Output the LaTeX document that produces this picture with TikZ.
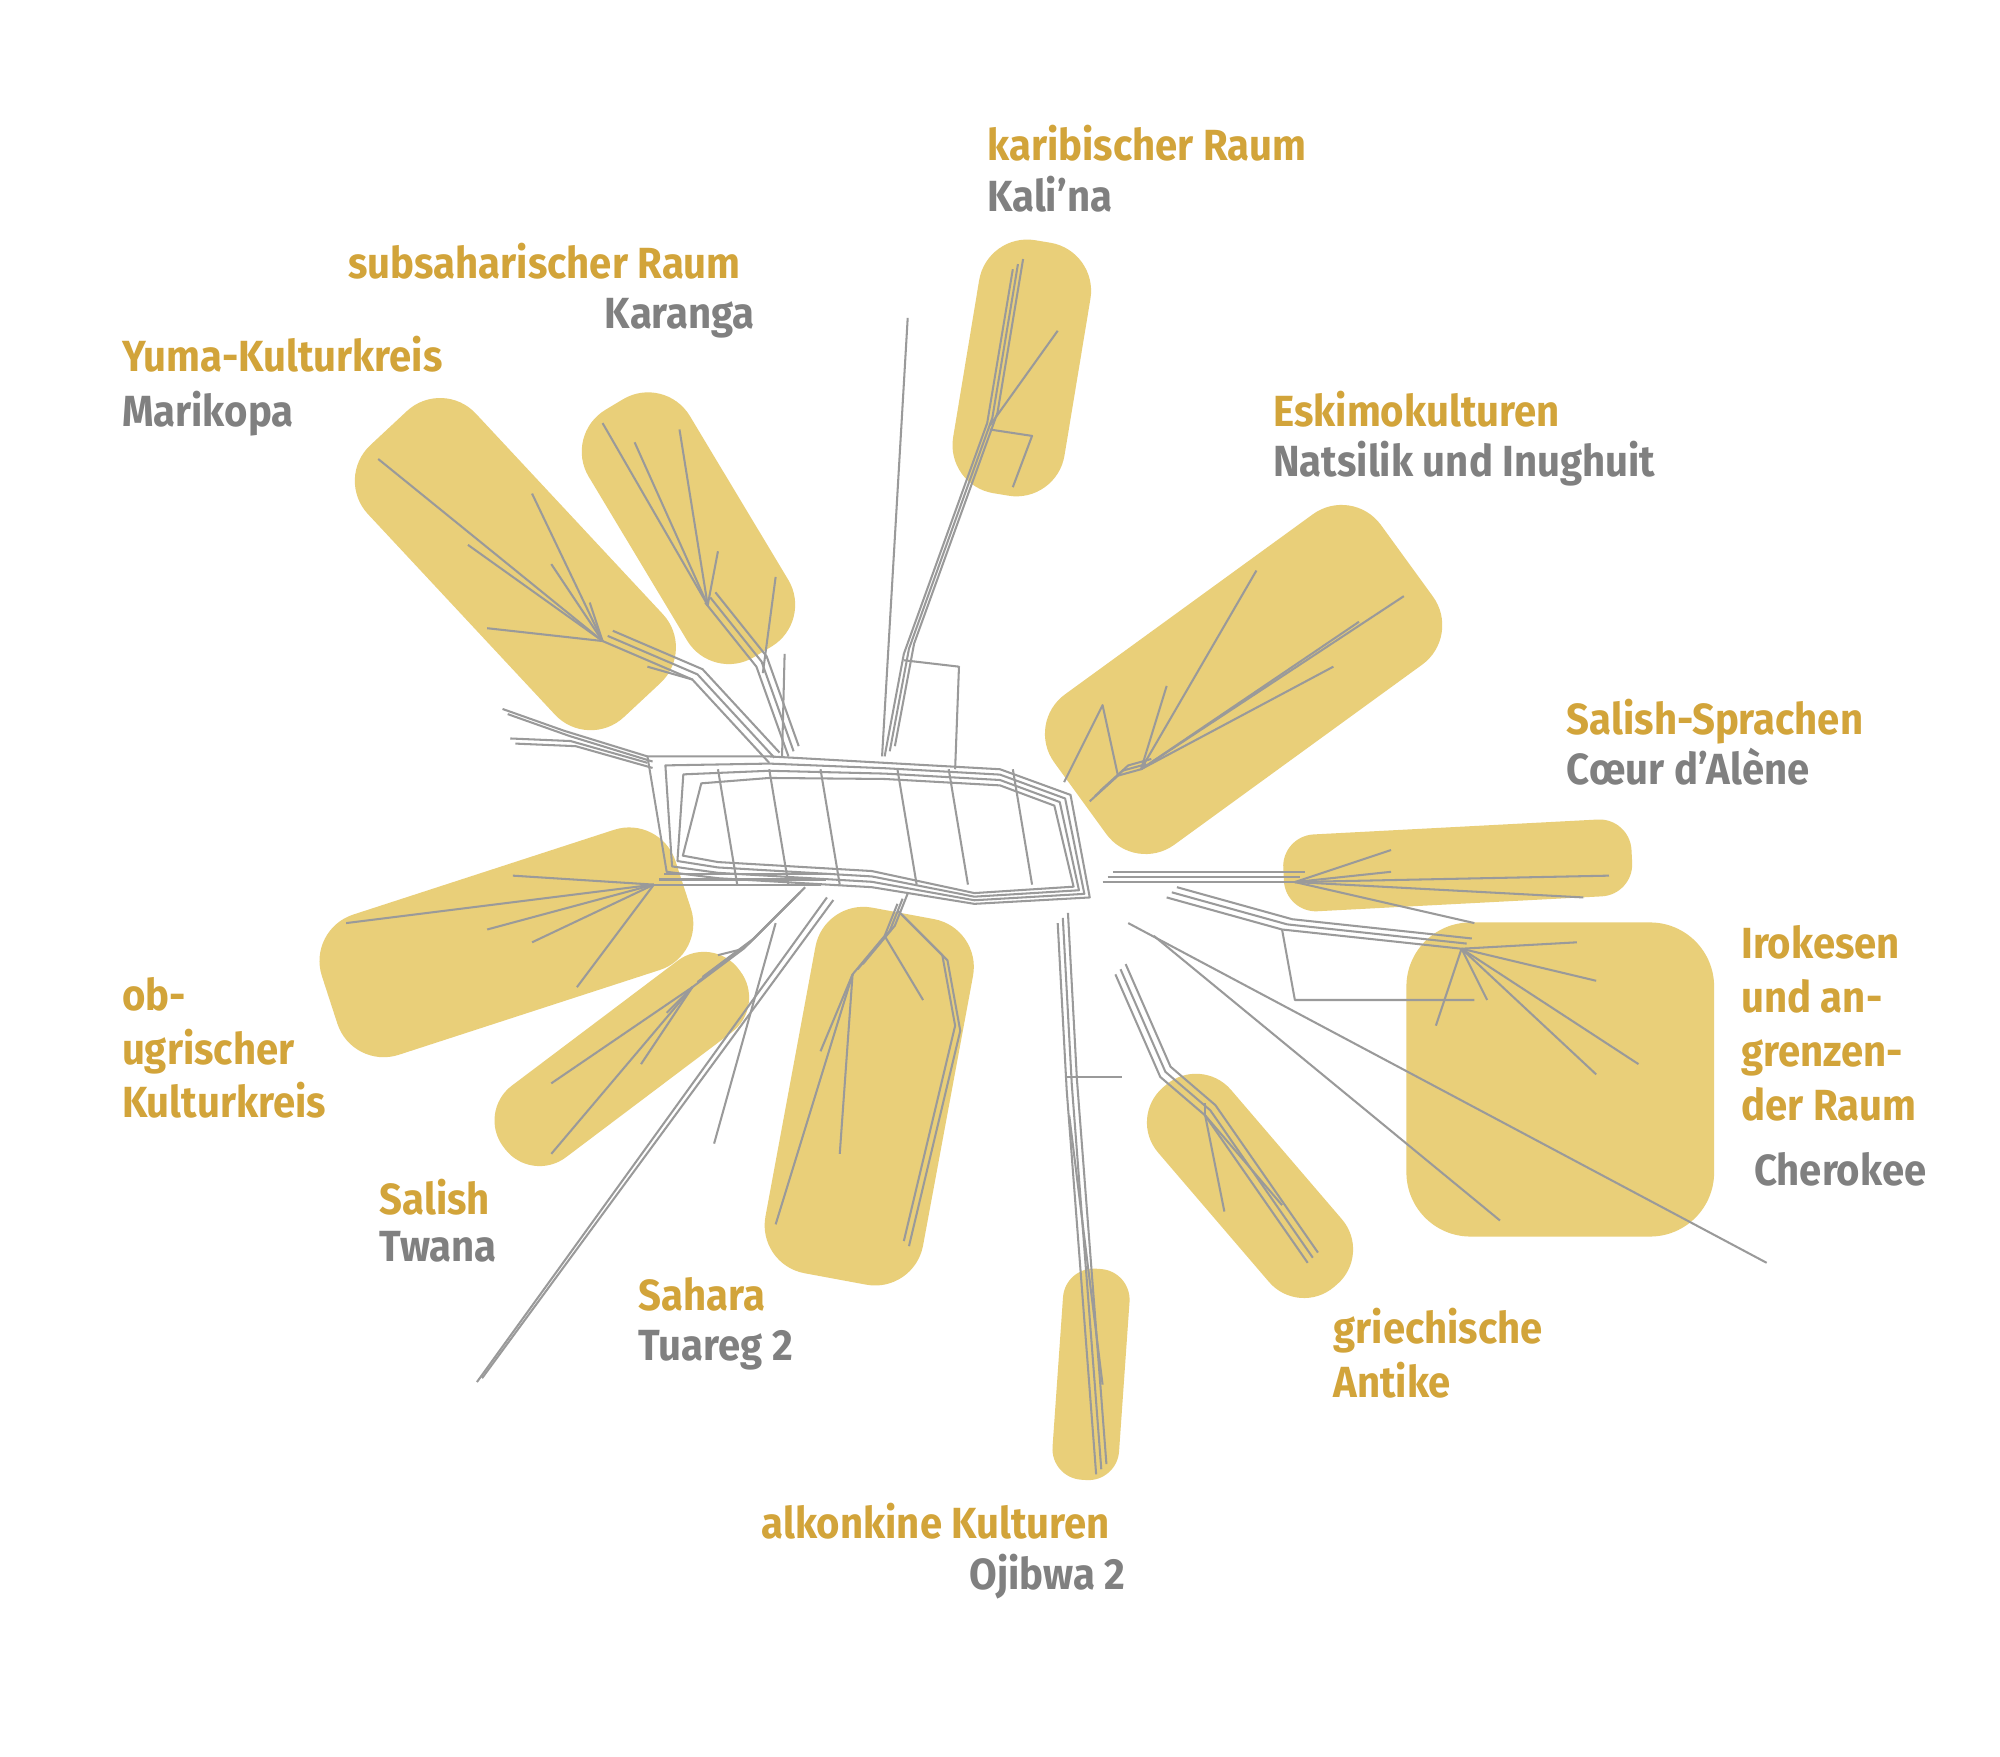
\documentclass[tikz,border=0pt]{standalone}
\usepackage{fontspec}
\setmainfont{Fira Sans}[FakeStretch=0.92]
\definecolor{gold}{HTML}{D2A43A}
\definecolor{blob}{HTML}{E9CF79}
\definecolor{gtext}{HTML}{808080}
\definecolor{net}{HTML}{9A9A9A}
\tikzset{
 blobshape/.style={fill=blob,rounded corners=38pt,minimum height=#1,inner sep=0pt},
 lab/.style={font=\fontsize{34}{42}\selectfont\bfseries,text=gold,anchor=base west,inner sep=0pt},
 sub/.style={font=\fontsize{34}{42}\selectfont\bfseries,text=gtext,anchor=base west,inner sep=0pt},
 edge/.style={draw=net,line width=1.6pt,line join=round}
}
\newcommand{\tri}[1]{\foreach \d in {0,4,8}{\draw[edge,shift={(\d pt,\d pt)}] #1;}}
\newcommand{\duo}[1]{\foreach \d in {0,4}{\draw[edge,shift={(\d pt,-\d pt)}] #1;}}
\begin{document}
\begin{tikzpicture}[x=1pt,y=1pt]
\useasboundingbox[fill=white] (0,0) rectangle (1560,-1370);
% blobs
\node[blobshape=88pt,minimum width=200pt,rotate=80.6] (b1) at (797,-287) {};
\node[blobshape=92pt,minimum width=225pt,rotate=121] (b2) at (537,-412) {};
\node[blobshape=115pt,minimum width=290pt,rotate=133] (b3) at (402,-440) {};
\node[blobshape=145pt,minimum width=315pt,rotate=36] (b4) at (970,-530) {};
\node[blobshape=60pt,minimum width=272pt,rotate=3,rounded corners=25pt] (b5) at (1137,-675) {};
\node[blobshape=245pt,minimum width=240pt,rounded corners=50pt] (b6) at (1217,-842) {};
\node[blobshape=115pt,minimum width=290pt,rotate=18] (b7) at (395,-735) {};
\node[blobshape=70pt,minimum width=230pt,rotate=37,rounded corners=34pt] (b8) at (485,-826) {};
\node[blobshape=125pt,minimum width=290pt,rotate=79.5] (b9) at (678,-855) {};
\node[blobshape=75pt,minimum width=205pt,rotate=130.6,rounded corners=36pt] (b10) at (975,-925) {};
\node[blobshape=52pt,minimum width=165pt,rotate=86,rounded corners=24pt] (b11) at (851,-1072) {};
% central ring
\foreach \d in {0,14,28,42}{
\draw[edge] (505+\d,-590-\d*0.5) -- (600,-590-\d*0.4) -- (690,-595-\d*0.3) -- (780,-600-\d*0.3) -- (835-\d*0.3,-620-\d*0.2) -- (850-\d*0.3,-700+\d*0.2) -- (760,-705+\d*0.2) -- (680,-692+\d*0.3) -- (560,-685+\d*0.3) -- (520+\d*0.3,-680+\d*0.3) -- cycle;}
\foreach \x in {560,600,640,700,740,790}{\draw[edge] (\x,-600) -- (\x+15,-690);}
% Kali'na
\tri{(690,-590) -- (705,-510) -- (770,-330) -- (790,-210)}
\draw[edge] (772,-332) -- (825,-258); \draw[edge] (772,-335) -- (805,-340) -- (790,-380);
\draw[edge] (688,-590) -- (708,-248);
\draw[edge] (705,-515) -- (748,-520) -- (745,-600);
% Karanga
\tri{(615,-590) -- (590,-520) -- (550,-470)}
\foreach \p in {(470,-330),(530,-335),(495,-345),(560,-430)}{\draw[edge] (552,-472) -- \p;}
\draw[edge] (595,-525) -- (605,-450); \draw[edge] (610,-590) -- (612,-510);
% Marikopa
\tri{(600,-595) -- (540,-530) -- (470,-500)}
\foreach \p in {(295,-358),(365,-425),(415,-385),(380,-490),(460,-470),(430,-440)}{\draw[edge] (470,-500) -- \p;}
\draw[edge] (540,-530) -- (505,-520);
% left lines
\duo{(505,-590) -- (440,-570) -- (392,-553)}
\duo{(505,-595) -- (445,-578) -- (398,-576)}
% ob-ugr
\tri{(640,-690) -- (580,-690) -- (510,-690)}
\foreach \p in {(270,-720),(400,-683),(380,-725),(415,-735),(450,-770)}{\draw[edge] (510,-690) -- \p;}
% Twana
\tri{(620,-700) -- (580,-740) -- (540,-770)}
\foreach \p in {(430,-900),(430,-845),(520,-790),(500,-830)}{\draw[edge] (540,-770) -- \p;}
\draw[edge] (580,-740) -- (560,-745);
% long lines
\draw[edge] (645,-700) -- (372,-1078); \draw[edge] (650,-702) -- (376,-1075);
\draw[edge] (605,-720) -- (557,-892);
% Sahara
\tri{(700,-705) -- (690,-730) -- (665,-760)}
\foreach \p in {(605,-955),(655,-900),(640,-820)}{\draw[edge] (665,-760) -- \p;}
\duo{(700,-710) -- (735,-745) -- (745,-800) -- (705,-968)}
\draw[edge] (690,-730) -- (720,-780);
% Ojibwa
\tri{(825,-720) -- (832,-850) -- (855,-1150)}
\draw[edge] (834,-870) -- (860,-1080); \draw[edge] (832,-840) -- (875,-840);
% griechisch
\tri{(870,-760) -- (905,-840) -- (940,-870) -- (1020,-985)}
\foreach \p in {(955,-945),(1000,-940),(940,-860)}{\draw[edge] (940,-870) -- \p;}
% Cherokee
\draw[edge] (880,-720) -- (1378,-985);
\draw[edge] (900,-730) -- (1170,-952);
% Irokesen
\tri{(910,-700) -- (1000,-725) -- (1140,-740)}
\foreach \p in {(1245,-765),(1278,-830),(1245,-838),(1120,-800),(1230,-735),(1160,-780)}{\draw[edge] (1140,-740) -- \p;}
\draw[edge] (1000,-725) -- (1010,-780) -- (1150,-780);
% Salish-Spr
\tri{(860,-688) -- (920,-688) -- (1010,-688)}
\foreach \p in {(1255,-683),(1085,-663),(1235,-700),(1085,-680),(1150,-720)}{\draw[edge] (1010,-688) -- \p;}
% Eskimo
\tri{(850,-625) -- (872,-605) -- (890,-600)}
\foreach \p in {(980,-445),(1095,-465),(1060,-485),(1040,-520),(910,-535)}{\draw[edge] (890,-600) -- \p;}
\draw[edge] (872,-605) -- (860,-550) -- (830,-610);
% labels
\node[lab] (t1) at (770,-125) {karibischer Raum};
\node[sub] (s1) at (770,-165) {Kali’na};
\node[lab,anchor=base east] (t2) at (578,-217) {subsaharischer Raum};
\node[sub,anchor=base east] (s2) at (589,-256) {Karanga};
\node[lab] (t3) at (95,-290) {Yuma-Kulturkreis};
\node[sub] (s3) at (95,-333) {Marikopa};
\node[lab] (t4) at (993,-333) {Eskimokulturen};
\node[sub] (s4) at (993,-372) {Natsilik und Inughuit};
\node[lab] (t5) at (1222,-573) {Salish-Sprachen};
\node[sub] (s5) at (1222,-612) {Cœur d’Alène};
\node[lab,align=left,anchor=north west] (t6) at (1358,-722) {Irokesen\\und an-\\grenzen-\\der Raum};
\node[sub] (s6) at (1368,-925) {Cherokee};
\node[lab,align=left,anchor=north west] (t7) at (95,-762) {ob-\\ugrischer\\Kulturkreis};
\node[lab] (t8) at (296,-947) {Salish};
\node[sub] (s8) at (296,-984) {Twana};
\node[lab] (t9) at (498,-1022) {Sahara};
\node[sub] (s9) at (498,-1061) {Tuareg 2};
\node[lab,align=left,anchor=north west] (t10) at (1040,-1020) {griechische\\Antike};
\node[lab] (t11) at (594,-1200) {alkonkine Kulturen};
\node[sub,anchor=base east] (s11) at (878,-1240) {Ojibwa 2};
\end{tikzpicture}
\end{document}
